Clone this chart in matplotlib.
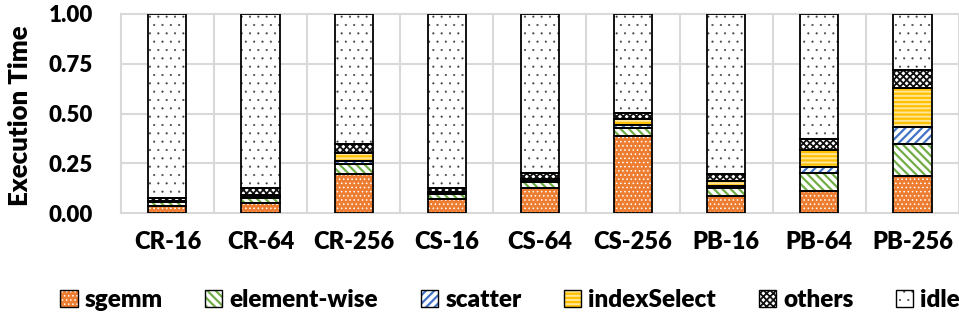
import numpy as np
import matplotlib
matplotlib.use("Agg")
import matplotlib.pyplot as plt
from matplotlib.patches import Patch, Rectangle

plt.rcParams['font.family'] = ['Lato', 'DejaVu Sans']
plt.rcParams['font.weight'] = 'heavy'
plt.rcParams['axes.labelweight'] = 'heavy'

categories = ['CR-16', 'CR-64', 'CR-256', 'CS-16', 'CS-64', 'CS-256',
              'PB-16', 'PB-64', 'PB-256']
sgemm = [0.035, 0.050, 0.195, 0.070, 0.128, 0.388, 0.087, 0.112, 0.189]
element_wise = [0.020, 0.025, 0.050, 0.025, 0.027, 0.038, 0.040, 0.089, 0.159]
scatter = [0.003, 0.005, 0.018, 0.005, 0.006, 0.017, 0.010, 0.033, 0.084]
index_select = [0.003, 0.010, 0.038, 0.005, 0.012, 0.030, 0.025, 0.084, 0.196]
others = [0.014, 0.035, 0.045, 0.020, 0.030, 0.032, 0.033, 0.054, 0.092]
idle = [0.925, 0.875, 0.654, 0.875, 0.797, 0.495, 0.805, 0.628, 0.280]

series = [
    ('sgemm', sgemm, dict(face='#ED7D31', hc='white', hatch='....', hlw=0.6)),
    ('element-wise', element_wise, dict(face='white', hc='#70AD47', hatch='\\\\\\\\', hlw=1.6)),
    ('scatter', scatter, dict(face='white', hc='#4472C4', hatch='////', hlw=1.6)),
    ('indexSelect', index_select, dict(face='#FFE699', hc='#FFC000', hatch='----', hlw=1.6)),
    ('others', others, dict(face='white', hc='#111111', hatch='xxxxx', hlw=1.3)),
    ('idle', idle, dict(face='white', hc='#444444', hatch='..', hlw=0.3)),
]

fig = plt.figure(figsize=(9.59, 3.22), dpi=100)
ax = fig.add_axes([0.126, 0.3376, 0.874, 0.619])

x = np.arange(len(categories))
width = 0.41
bottom = np.zeros(len(categories))
handles = []
for name, vals, st in series:
    vals = np.asarray(vals)
    plt.rcParams['hatch.linewidth'] = st['hlw']
    ax.bar(x, vals, width, bottom=bottom, color=st['face'], edgecolor=st['hc'],
           hatch=st['hatch'], linewidth=0, zorder=2)
    ax.bar(x, vals, width, bottom=bottom, fill=False, edgecolor='black',
           linewidth=1.3, zorder=3)
    bottom += vals
    handles.append((Patch(facecolor=st['face'], edgecolor=st['hc'], hatch=st['hatch'], linewidth=0),
                    Patch(fill=False, edgecolor='black', linewidth=1.0)))

ax.set_xlim(-0.5, len(categories) - 0.5)
ax.set_ylim(0, 1.0)
ax.set_yticks([0, 0.25, 0.5, 0.75, 1.0])
ax.set_yticklabels(['0.00', '0.25', '0.50', '0.75', '1.00'])
ax.set_xticks(x)
ax.set_xticklabels(categories)
ax.set_xticks(np.arange(-0.5, len(categories)), minor=True)
ax.grid(axis='y', which='major', color='#D9D9D9', linewidth=1.5, zorder=0)
ax.grid(axis='x', which='minor', color='#D9D9D9', linewidth=1.5, zorder=0)
ax.grid(axis='x', which='major', visible=False)
for t in ax.yaxis.get_major_ticks() + ax.xaxis.get_minor_ticks():
    t.gridline.set_clip_on(False)
ax.set_axisbelow(True)
for s in ax.spines.values():
    s.set_visible(False)
ax.tick_params(axis='both', which='both', length=0)
ax.tick_params(axis='y', labelsize=16, pad=20)
ax.tick_params(axis='x', labelsize=17, pad=13)
ax.set_ylabel('Execution Time', fontsize=18.5, fontweight='heavy')
ax.yaxis.set_label_coords(-0.106, 0.49)

leg = fig.legend(handles, [s[0] for s in series], loc='center', bbox_to_anchor=(0.532, 0.068),
                 ncol=6, frameon=False, fontsize=17.5, handlelength=0.7, handleheight=0.7,
                 handletextpad=0.3, columnspacing=1.75)
# legend swatches are rebuilt by the handler, so restore each hatch line width
hatch_lw = {st['hatch']: st['hlw'] for _, _, st in series}
for r in leg.findobj(Rectangle):
    h = r.get_hatch()
    if h in hatch_lw:
        r._hatch_linewidth = hatch_lw[h]

fig.savefig('out.png', dpi=100)
